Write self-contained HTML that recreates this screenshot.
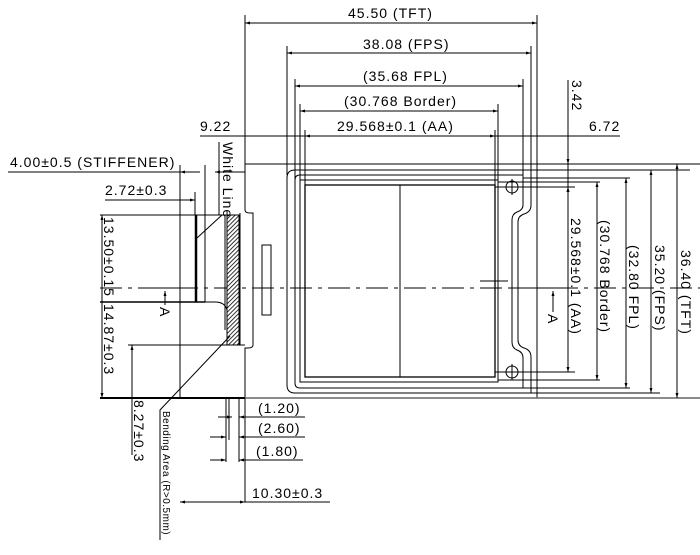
<!DOCTYPE html>
<html><head><meta charset="utf-8"><style>
html,body{margin:0;padding:0;background:#fff;}
svg{display:block;}
text{font-family:"Liberation Sans","DejaVu Sans",sans-serif;font-size:14px;letter-spacing:1px;fill:#000;}
</style></head><body>
<svg width="700" height="555" viewBox="0 0 700 555" xmlns="http://www.w3.org/2000/svg">
<defs>
<marker id="a" viewBox="0 0 10 10" refX="10" refY="5" markerWidth="7" markerHeight="5" orient="auto-start-reverse"><path d="M0,2 L10,5 L0,8z" fill="#000"/></marker>
<pattern id="h" width="3" height="3" patternUnits="userSpaceOnUse" patternTransform="rotate(45)"><rect width="3" height="3" fill="#fff"/><line x1="0" y1="0" x2="0" y2="3" stroke="#000" stroke-width="1.6"/></pattern>
</defs>
<g stroke="#000" stroke-width="1" fill="none">
<line x1="245" y1="23" x2="537" y2="23" marker-start="url(#a)" marker-end="url(#a)"/>
<line x1="287" y1="53" x2="531" y2="53" marker-start="url(#a)" marker-end="url(#a)"/>
<line x1="295" y1="86" x2="523" y2="86" marker-start="url(#a)" marker-end="url(#a)"/>
<line x1="300" y1="111" x2="498" y2="111" marker-start="url(#a)" marker-end="url(#a)"/>
<line x1="305" y1="136" x2="495" y2="136" marker-start="url(#a)" marker-end="url(#a)"/>
<line x1="200" y1="136" x2="620" y2="136"/>
<line x1="245" y1="15" x2="245" y2="210"/>
<line x1="287" y1="46" x2="287" y2="175"/>
<line x1="295" y1="79" x2="295" y2="180"/>
<line x1="300" y1="104" x2="300" y2="182"/>
<line x1="305" y1="130" x2="305" y2="187"/>
<line x1="495" y1="130" x2="495" y2="187"/>
<line x1="498" y1="104" x2="498" y2="182"/>
<line x1="523" y1="79" x2="523" y2="178"/>
<line x1="531" y1="46" x2="531" y2="170"/>
<line x1="537" y1="15" x2="537" y2="398"/>
<line x1="568" y1="80" x2="568" y2="187"/>
<line x1="568" y1="150" x2="568" y2="164" marker-end="url(#a)"/>
<line x1="568" y1="200" x2="568" y2="187" marker-end="url(#a)"/>
<line x1="245" y1="164" x2="700" y2="164"/>
<path d="M245,210 Q245,213 250,213 L253,213 L253,345 Q253,348 248,348 L245,348 L245,502"/>
<line x1="100" y1="398" x2="245" y2="398" stroke-width="2"/>
<line x1="245" y1="398" x2="700" y2="398" stroke="#666" stroke-width="1.5"/>
<path d="M295,170 L531,170 L531,205 Q531,212 524,214 Q518,216 518,222 L518,340 Q518,346 524,348 Q531,350 531,357 L531,393 L295,393 Q287,393 287,385 L287,178 Q287,170 295,170z"/>
<path d="M300,175 L523,175 L523,205 Q523,210 517,212 Q512,214 512,220 L512,342 Q512,348 517,350 Q523,352 523,358 L523,388 L300,388 Q295,388 295,383 L295,180 Q295,175 300,175z"/>
<rect x="300" y="180" width="198" height="202"/>
<rect x="305" y="185" width="190" height="192" stroke-width="1.3"/>
<line x1="400" y1="185" x2="400" y2="377"/>
<line x1="531" y1="170" x2="690" y2="170"/>
<line x1="523" y1="178" x2="630" y2="178"/>
<line x1="498" y1="182" x2="600" y2="182"/>
<line x1="495" y1="187" x2="575" y2="187"/>
<line x1="495" y1="372" x2="575" y2="372"/>
<line x1="498" y1="380" x2="600" y2="380"/>
<line x1="523" y1="388" x2="630" y2="388"/>
<line x1="531" y1="393" x2="660" y2="393"/>
<circle cx="512" cy="187" r="6"/><line x1="504" y1="187" x2="520" y2="187"/><line x1="512" y1="179" x2="512" y2="195"/>
<circle cx="512" cy="372" r="6"/><line x1="504" y1="372" x2="520" y2="372"/><line x1="512" y1="364" x2="512" y2="380"/>
<line x1="677" y1="164" x2="677" y2="398" marker-start="url(#a)" marker-end="url(#a)"/>
<line x1="651" y1="170" x2="651" y2="393" marker-start="url(#a)" marker-end="url(#a)"/>
<line x1="626" y1="178" x2="626" y2="388" marker-start="url(#a)" marker-end="url(#a)"/>
<line x1="597" y1="182" x2="597" y2="380" marker-start="url(#a)" marker-end="url(#a)"/>
<line x1="568" y1="187" x2="568" y2="372" marker-start="url(#a)" marker-end="url(#a)"/>
<line x1="100" y1="288" x2="700" y2="288" stroke-dasharray="22,6,4,6"/>
<line x1="480" y1="281" x2="508" y2="281"/>
<line x1="510" y1="288" x2="560" y2="288"/>
<line x1="553" y1="312" x2="553" y2="291" marker-end="url(#a)"/>
<line x1="165" y1="305" x2="165" y2="291" marker-end="url(#a)"/>
<line x1="160" y1="288" x2="197" y2="288"/>
<line x1="8" y1="172" x2="180" y2="172"/>
<line x1="180" y1="172" x2="200" y2="172" marker-start="url(#a)"/>
<line x1="215" y1="172" x2="245" y2="172" marker-start="url(#a)"/>
<line x1="105" y1="200" x2="180" y2="200"/>
<line x1="180" y1="200" x2="195" y2="200" marker-end="url(#a)"/>
<line x1="180" y1="165" x2="180" y2="398"/>
<line x1="195" y1="192" x2="195" y2="215"/>
<line x1="196" y1="215" x2="196" y2="302" stroke-width="2.5"/>
<line x1="205" y1="165" x2="205" y2="302"/>
<line x1="100" y1="215" x2="230" y2="215"/>
<line x1="100" y1="302" x2="205" y2="302" stroke-width="1.5"/>
<path d="M197,238 L222,215"/>
<path d="M205,302 L215,302 Q225,302 227,310"/>
<line x1="102" y1="215" x2="102" y2="398" marker-start="url(#a)" marker-end="url(#a)"/>
<line x1="128" y1="345" x2="245" y2="345"/>
<line x1="132" y1="345" x2="132" y2="398" marker-start="url(#a)"/>
<line x1="132" y1="398" x2="132" y2="455"/>
<rect x="227" y="215" width="12" height="130" fill="url(#h)"/>
<line x1="225" y1="215" x2="225" y2="330"/>
<line x1="240" y1="213" x2="240" y2="345"/>
<rect x="262" y="245" width="9" height="70"/>
<line x1="219" y1="142" x2="219" y2="215"/>
<path d="M230,336 L160,410 L160,540"/>
<line x1="226" y1="398" x2="226" y2="462"/>
<line x1="229" y1="398" x2="229" y2="440"/>
<line x1="239" y1="398" x2="239" y2="462"/>
<line x1="218" y1="417" x2="232" y2="417" marker-end="url(#a)"/>
<line x1="255" y1="417" x2="239" y2="417" marker-end="url(#a)"/>
<line x1="255" y1="417" x2="305" y2="417"/>
<line x1="210" y1="437" x2="226" y2="437" marker-end="url(#a)"/>
<line x1="255" y1="437" x2="239" y2="437" marker-end="url(#a)"/>
<line x1="255" y1="437" x2="305" y2="437"/>
<line x1="210" y1="460" x2="226" y2="460" marker-end="url(#a)"/>
<line x1="250" y1="460" x2="239" y2="460" marker-end="url(#a)"/>
<line x1="250" y1="460" x2="303" y2="460"/>
<line x1="180" y1="502" x2="245" y2="502" marker-start="url(#a)" marker-end="url(#a)"/>
<line x1="245" y1="502" x2="330" y2="502"/>
</g>
<g>
<text x="348" y="18">45.50 (TFT)</text>
<text x="363" y="49">38.08 (FPS)</text>
<text x="363" y="81">(35.68 FPL)</text>
<text x="344" y="106">(30.768 Border)</text>
<text x="337" y="131">29.568±0.1 (AA)</text>
<text x="200" y="131">9.22</text>
<text x="589" y="131">6.72</text>
<text x="10" y="167">4.00±0.5 (STIFFENER)</text>
<text x="105" y="195">2.72±0.3</text>
<text x="258" y="413">(1.20)</text>
<text x="258" y="433">(2.60)</text>
<text x="256" y="456">(1.80)</text>
<text x="252" y="498">10.30±0.3</text>
<text transform="translate(572,80) rotate(90)">3.42</text>
<text transform="translate(223,142) rotate(90)">White Line</text>
<text transform="translate(104,217) rotate(90)">13.50±0.15</text>
<text transform="translate(104,304) rotate(90)">14.87±0.3</text>
<text transform="translate(134,400) rotate(90)">8.27±0.3</text>
<text transform="translate(163,411) rotate(90)" style="font-size:10px;letter-spacing:0.5px">Bending Area (R&gt;0.5mm)</text>
<text transform="translate(160,307) rotate(90)">A</text>
<text transform="translate(548,314) rotate(90)">A</text>
<text transform="translate(571,218) rotate(90)">29.568±0.1 (AA)</text>
<text transform="translate(600,220) rotate(90)">(30.768 Border)</text>
<text transform="translate(629,245) rotate(90)">(32.80 FPL)</text>
<text transform="translate(655,245) rotate(90)">35.20 (FPS)</text>
<text transform="translate(681,250) rotate(90)">36.40 (TFT)</text>
</g>
</svg>
</body></html>
